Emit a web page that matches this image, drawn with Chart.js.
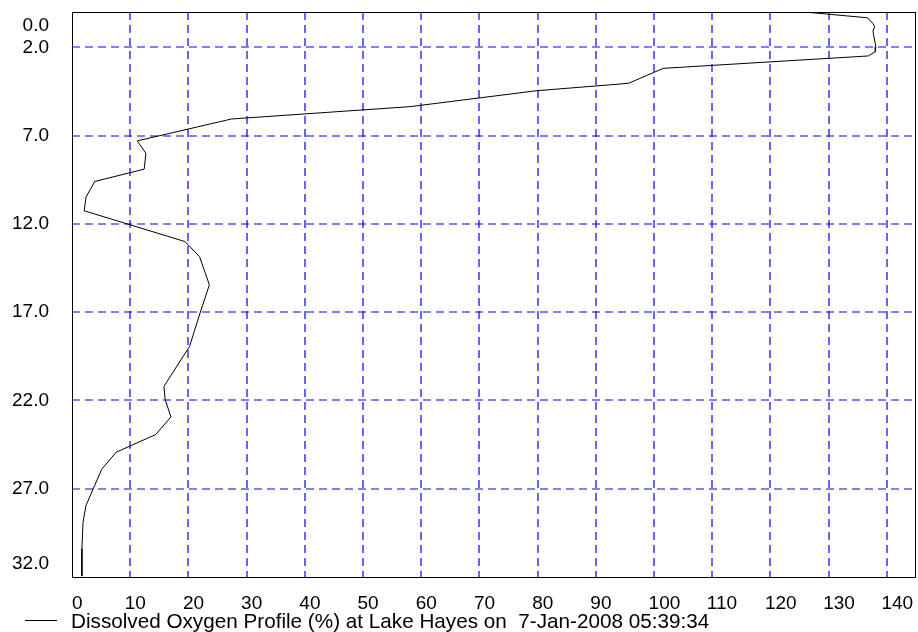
<!DOCTYPE html>
<html>
<head>
<meta charset="utf-8">
<script src="https://cdn.jsdelivr.net/npm/chart.js@4/dist/chart.umd.min.js"></script>
<style>
  html, body { margin: 0; padding: 0; background: #ffffff; }
  #wrap { width: 918px; height: 632px; position: relative; }
</style>
</head>
<body>
<div id="wrap"><canvas id="profile"></canvas></div>
<script>
// Dissolved oxygen saturation (%) against depth (m), Lake Hayes, 7 Jan 2008
const depthMetres = [
  0.00, 0.33, 0.65, 0.84, 1.08, 1.97, 2.25, 2.49, 3.19, 4.04,
  4.46, 5.36, 6.06, 7.30, 8.00, 8.90, 9.60, 10.49, 11.26, 13.00,
  13.85, 15.45, 17.05, 18.94, 21.20, 21.95, 22.93, 23.93, 24.93, 25.90,
  27.95, 28.90, 30.40, 31.95
];
const oxygenPercent = [
  125.9, 136.7, 137.6, 137.9, 137.6, 138.1, 138.0, 136.8, 101.6, 95.6,
  79.8, 58.1, 27.4, 11.2, 12.7, 12.4, 3.9, 2.4, 2.1, 19.4,
  21.9, 23.6, 22.0, 20.2, 15.8, 16.0, 17.0, 14.4, 7.6, 5.1,
  2.4, 1.9, 1.7, 1.7
];
const xTickValues = [0, 10, 20, 30, 40, 50, 60, 70, 80, 90, 100, 110, 120, 130, 140];
const yTickValues = [0, 2, 7, 12, 17, 22, 27, 32];
const yTickLabels = ['0.0', '2.0', '7.0', '12.0', '17.0', '22.0', '27.0', '32.0'];
const seriesLabel = 'Dissolved Oxygen Profile (%) at Lake Hayes on  7-Jan-2008 05:39:34';
const xRange = [0, 145];
const yRange = [0, 32];

const TICK_FONT = '19px "Liberation Sans", Arial, sans-serif';
const LEGEND_FONT = '20.7px "Liberation Sans", Arial, sans-serif';
const GRID_BLUE = 'rgb(0, 0, 255)';
const GRID_DASH = [8, 5];

const points = depthMetres.map((d, i) => ({ x: oxygenPercent[i], y: d }));

// values strictly inside an axis range (the frame covers the ends)
const inside = (vals, range) => vals.filter(v => v > range[0] && v < range[1]);

// Dashed blue grid, placed with the chart's own scales
const gridPlugin = {
  id: 'dashedGrid',
  beforeDatasetsDraw(chart) {
    const { ctx, chartArea: a, scales } = chart;
    ctx.save();
    ctx.strokeStyle = GRID_BLUE;
    ctx.lineWidth = 1.2;
    ctx.setLineDash(GRID_DASH);
    ctx.beginPath();
    inside(xTickValues, xRange).forEach(v => {
      const px = Math.round(scales.x.getPixelForValue(v));
      ctx.moveTo(px, a.top);
      ctx.lineTo(px, a.bottom);
    });
    inside(yTickValues, yRange).forEach(v => {
      const py = Math.round(scales.y.getPixelForValue(v));
      ctx.moveTo(a.left, py);
      ctx.lineTo(a.right, py);
    });
    ctx.stroke();
    ctx.restore();
  }
};

// Frame, tick labels and legend entry drawn around the plot area
const framePlugin = {
  id: 'frameAndLabels',
  afterDraw(chart) {
    const { ctx, chartArea: a, scales } = chart;
    ctx.save();
    ctx.strokeStyle = '#000000';
    ctx.lineWidth = 1;
    ctx.setLineDash([]);
    ctx.strokeRect(Math.round(a.left) + 0.5, Math.round(a.top) + 0.5,
                   Math.round(a.right - a.left) - 1, Math.round(a.bottom - a.top));

    ctx.fillStyle = '#000000';
    ctx.font = TICK_FONT;

    // depth labels, kept inside the frame at both ends
    ctx.textAlign = 'right';
    ctx.textBaseline = 'middle';
    yTickValues.forEach((v, i) => {
      let py = scales.y.getPixelForValue(v);
      py = Math.max(py, a.top + 13.5);
      py = Math.min(py, a.bottom - 13.5);
      ctx.fillText(yTickLabels[i], a.left - 23, py);
    });

    // oxygen labels
    ctx.textAlign = 'left';
    ctx.textBaseline = 'alphabetic';
    xTickValues.forEach(v => {
      const px = scales.x.getPixelForValue(v);
      ctx.fillText(String(v), Math.max(px - 5.5, a.left), 609);
    });

    // legend entry
    ctx.beginPath();
    ctx.moveTo(25, 620.5);
    ctx.lineTo(57, 620.5);
    ctx.stroke();
    ctx.font = LEGEND_FONT;
    ctx.fillText(seriesLabel, 71, 628);
    ctx.restore();
  }
};

new Chart(document.getElementById('profile'), {
  type: 'scatter',
  data: {
    datasets: [{
      label: seriesLabel,
      data: points,
      showLine: true,
      borderColor: '#000000',
      borderWidth: 1,
      pointRadius: 0,
      pointHoverRadius: 0,
      tension: 0,
      fill: false
    }]
  },
  options: {
    responsive: true,
    maintainAspectRatio: false,
    animation: false,
    devicePixelRatio: 1,
    layout: { padding: { left: 72, top: 12, right: 2, bottom: 55 } },
    plugins: { legend: { display: false }, tooltip: { enabled: false } },
    scales: {
      x: {
        type: 'linear',
        min: xRange[0],
        max: xRange[1],
        ticks: { display: false },
        border: { display: false },
        grid: { display: false, drawTicks: false }
      },
      y: {
        type: 'linear',
        reverse: true,
        min: yRange[0],
        max: yRange[1],
        ticks: { display: false },
        border: { display: false },
        grid: { display: false, drawTicks: false }
      }
    }
  },
  plugins: [gridPlugin, framePlugin]
});
</script>
</body>
</html>
